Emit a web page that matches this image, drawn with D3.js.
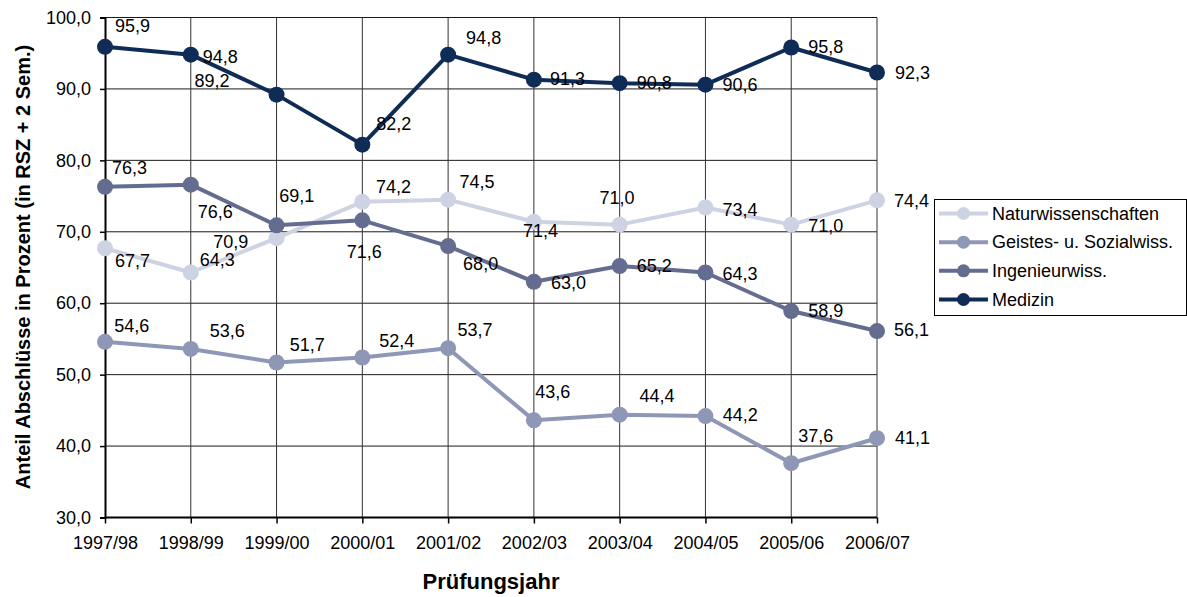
<!DOCTYPE html>
<html>
<head>
<meta charset="utf-8">
<script src="https://cdn.jsdelivr.net/npm/d3@7"></script>
<style>
  html, body { margin: 0; padding: 0; background: #fff; }
  svg { display: block; }
  text { font-family: "Liberation Sans", Arial, sans-serif; fill: #000; }
</style>
</head>
<body>
<svg id="chart" width="1187" height="597"></svg>
<script>
// ---- data ----
const years = ["1997/98","1998/99","1999/00","2000/01","2001/02","2002/03","2003/04","2004/05","2005/06","2006/07"];
const seriesNames = ["Naturwissenschaften","Geistes- u. Sozialwiss.","Ingenieurwiss.","Medizin"];
const naturwiss   = [67.7, 64.3, 69.1, 74.2, 74.5, 71.4, 71.0, 73.4, 71.0, 74.4];
const geistes     = [54.6, 53.6, 51.7, 52.4, 53.7, 43.6, 44.4, 44.2, 37.6, 41.1];
const ingenieur   = [76.3, 76.6, 70.9, 71.6, 68.0, 63.0, 65.2, 64.3, 58.9, 56.1];
const medizin     = [95.9, 94.8, 89.2, 82.2, 94.8, 91.3, 90.8, 90.6, 95.8, 92.3];
const yTicks      = [30, 40, 50, 60, 70, 80, 90, 100];

// ---- styles / label placement (pixels relative to each point) ----
const colors = ["#cdd3e3", "#8e97b5", "#646c8f", "#0f2c57"];
const labelOffsets = [
  // Naturwissenschaften
  [[10,12.5],[9,-12.5],[2.6,-42.2],[13.6,-14.3],[11.3,-17.4],[-11,9.4],[-20.2,-26.8],[17,2.5],[17,1.6],[17,1]],
  // Geistes
  [[9.3,-16],[19,-17.8],[13.3,-18],[17,-16.8],[9.3,-18.2],[1.3,-28],[19.8,-18.8],[17.4,-0.6],[7,-27.7],[18,0]],
  // Ingenieur
  [[7,-19],[7,27],[-63.4,16.5],[-15.7,31.6],[15,17.6],[17,1],[17,0],[17,1],[17,0],[17,-1]],
  // Medizin
  [[10,-20.6],[12,2],[-82,-13.4],[14,-20.6],[18,-16.6],[16,-0.6],[17,0],[17,0],[17,-1],[18,0]]
];

const allSeries = [naturwiss, geistes, ingenieur, medizin];
const fmt = v => v.toFixed(1).replace(".", ",");

const svg = d3.select("#chart");
const x = d3.scalePoint().domain(years).range([105, 877]);
const y = d3.scaleLinear().domain([30, 100]).range([517.5, 17.5]);

// gridlines
const grid = svg.append("g");
grid.selectAll("line.h").data(yTicks.filter(t => t > 30)).enter().append("line")
  .attr("x1", 105).attr("x2", 877)
  .attr("y1", d => y(d)).attr("y2", d => y(d))
  .attr("stroke", "#1a1a1a").attr("stroke-width", 1);
grid.selectAll("line.v").data(years.slice(1)).enter().append("line")
  .attr("x1", d => x(d)).attr("x2", d => x(d))
  .attr("y1", y(100)).attr("y2", y(30))
  .attr("stroke", "#333").attr("stroke-width", 1);

// axes
const yAxis = d3.axisLeft(y).tickValues(yTicks).tickSize(5).tickPadding(9).tickFormat(fmt);
const gy = svg.append("g").attr("transform", "translate(105,0)").call(yAxis);
gy.select(".domain").attr("stroke", "#000").attr("stroke-width", 2);
gy.selectAll(".tick line").attr("stroke", "#000").attr("stroke-width", 1.5);
gy.selectAll(".tick text").style("font-size", "18px").attr("fill", "#000");

const xAxis = d3.axisBottom(x).tickSize(6).tickPadding(13);
const gx = svg.append("g").attr("transform", `translate(0,${y(30)})`).call(xAxis);
gx.select(".domain").attr("stroke", "#000").attr("stroke-width", 2).attr("d", `M105,0H877`);
gx.selectAll(".tick line").attr("stroke", "#000").attr("stroke-width", 1.5);
gx.selectAll(".tick text").style("font-size", "18px").attr("fill", "#000");

// series
const line = d3.line().x((d, i) => x(years[i])).y(d => y(d));
allSeries.forEach((vals, s) => {
  const g = svg.append("g");
  g.append("path").datum(vals).attr("d", line)
    .attr("fill", "none").attr("stroke", colors[s]).attr("stroke-width", 4)
    .attr("stroke-linejoin", "round");
  g.selectAll("circle").data(vals).enter().append("circle")
    .attr("cx", (d, i) => x(years[i])).attr("cy", d => y(d)).attr("r", 8)
    .attr("fill", colors[s]);
});

// data labels
allSeries.forEach((vals, s) => {
  svg.append("g").selectAll("text").data(vals).enter().append("text")
    .attr("x", (d, i) => x(years[i]) + labelOffsets[s][i][0])
    .attr("y", (d, i) => y(d) + labelOffsets[s][i][1])
    .attr("dominant-baseline", "central")
    .style("font-size", "18px")
    .text(fmt);
});

// axis titles
svg.append("text")
  .attr("transform", "translate(23,267) rotate(-90)")
  .attr("text-anchor", "middle").attr("dominant-baseline", "central")
  .style("font-size", "20px").style("font-weight", "bold")
  .text("Anteil Abschlüsse in Prozent (in RSZ + 2 Sem.)");
svg.append("text")
  .attr("x", 491).attr("y", 589).attr("text-anchor", "middle")
  .style("font-size", "22px").style("font-weight", "bold")
  .text("Prüfungsjahr");

// legend
const lg = svg.append("g");
lg.append("rect").attr("x", 934.5).attr("y", 199.5).attr("width", 252).attr("height", 116)
  .attr("fill", "#fff").attr("stroke", "#000").attr("stroke-width", 1);
const ly = d3.scalePoint().domain(seriesNames).range([213.5, 299.5]);
seriesNames.forEach((name, s) => {
  const cy = ly(name);
  lg.append("line").attr("x1", 939).attr("x2", 988).attr("y1", cy).attr("y2", cy)
    .attr("stroke", colors[s]).attr("stroke-width", 4);
  lg.append("circle").attr("cx", 963.5).attr("cy", cy).attr("r", 6.5).attr("fill", colors[s]);
  lg.append("text").attr("x", 992).attr("y", cy).attr("dominant-baseline", "central")
    .style("font-size", "18px").text(name);
});
</script>
</body>
</html>
